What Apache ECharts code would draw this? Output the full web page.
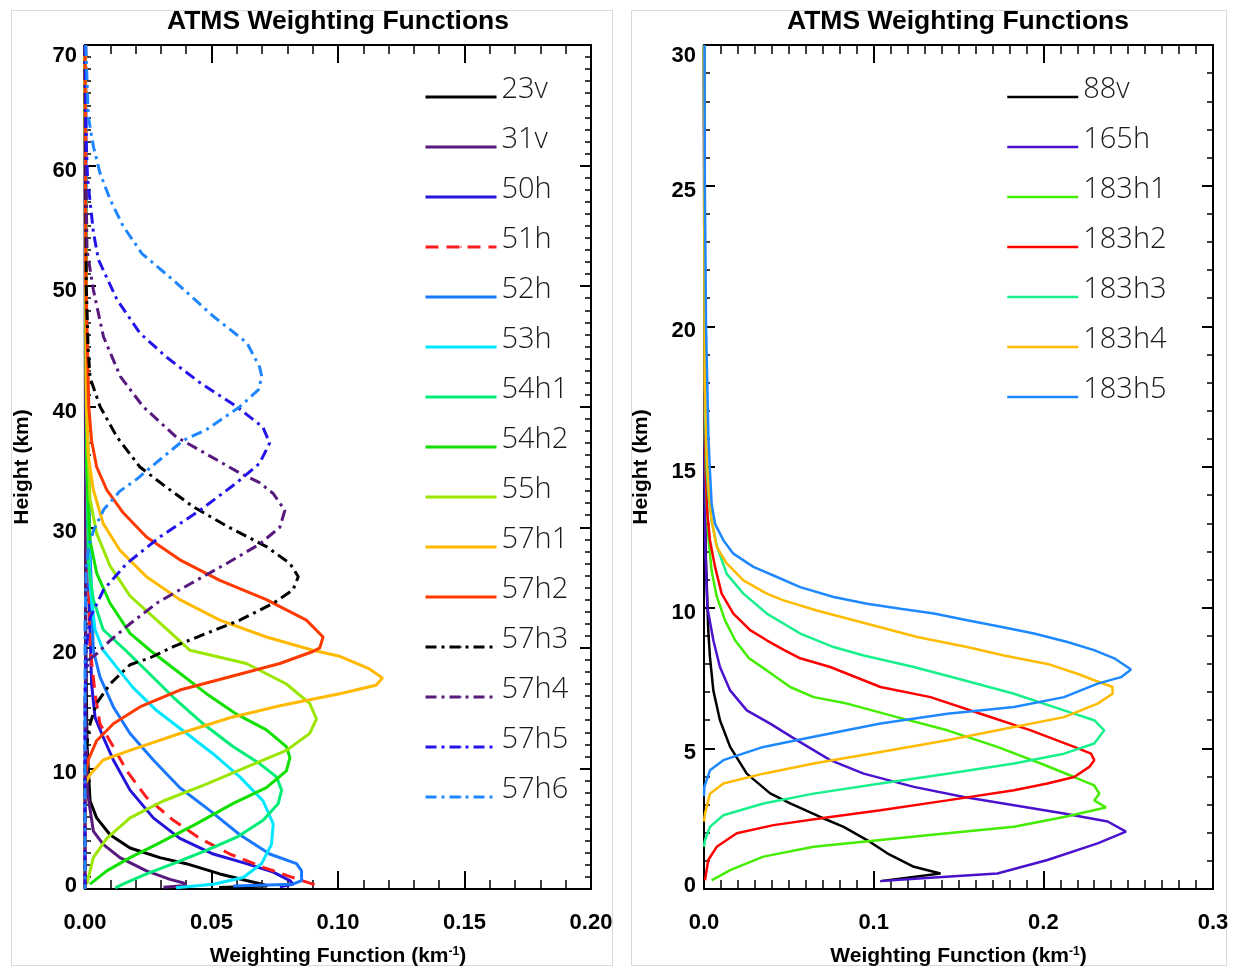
<!DOCTYPE html>
<html><head><meta charset="utf-8">
<script src="https://cdn.jsdelivr.net/npm/echarts@6/dist/echarts.min.js"></script>
<style>html,body{margin:0;padding:0;background:#fff}#c{width:1234px;height:968px}</style>
</head><body><div id="c"></div>
<script>
// ---------- DATA: each profile is [weighting function (km^-1), height (km)] ----------
const leftNames  = ['23v','31v','50h','51h','52h','53h','54h1','54h2','55h','57h1','57h2','57h3','57h4','57h5','57h6'];
const rightNames = ['88v','165h','183h1','183h2','183h3','183h4','183h5'];

const leftXTicks  = [0, 0.2, 0.05];   // min, max, step
const leftYTicks  = [0, 70, 10];
const rightXTicks = [0, 0.3, 0.1];
const rightYTicks = [0, 30, 5];

const w23v = [[0,70],[0.0003,20],[0.0008,12],[0.002,7.3],[0.0046,5.9],[0.0099,4.5],[0.0178,3.4],[0.0296,2.6],[0.040,2.1],[0.0533,1.25],[0.0638,0.7],[0.070,0.4],[0.072,0.25],[0.053,0.12]];
const w31v = [[0,70],[0.0003,15],[0.001,8],[0.0033,4.8],[0.0072,3.7],[0.0138,2.6],[0.0243,1.5],[0.0336,0.8],[0.039,0.5],[0.040,0.3],[0.031,0.14]];
const w50h = [[0,70],[0.0005,40],[0.0015,25],[0.0026,17],[0.004,14.2],[0.0072,12.6],[0.0112,10.7],[0.0178,8.2],[0.027,5.9],[0.0375,4.2],[0.0507,2.9],[0.0638,2.1],[0.0744,1.4],[0.081,0.7],[0.0822,0.4],[0.077,0.18]];
const w51h = [[0.0003,70],[0.0005,50],[0.001,30],[0.002,20],[0.004,16.2],[0.0059,13.7],[0.0112,11.8],[0.0165,9.8],[0.0243,7.6],[0.0349,5.7],[0.0454,4.2],[0.0573,2.9],[0.0704,1.8],[0.0822,0.95],[0.0901,0.4],[0.0915,0.25]];
const w52h = [[0.0002,70],[0.0008,40],[0.002,28],[0.0033,19.8],[0.0059,17.6],[0.0112,15.1],[0.0178,12.9],[0.027,10.7],[0.0375,8.4],[0.0494,6.5],[0.0612,4.5],[0.073,2.9],[0.0836,2.1],[0.0856,1.5],[0.0856,0.7],[0.0822,0.4],[0.0586,0.25]];
const w53h = [[0,70],[0.0008,35],[0.002,25],[0.004,21.5],[0.0072,19.8],[0.0125,18.4],[0.019,16.7],[0.0283,14.8],[0.0402,12.9],[0.0507,11.2],[0.0612,9.3],[0.0704,7.3],[0.0744,5.4],[0.0737,3.7],[0.0698,2.1],[0.0625,0.95],[0.0507,0.4],[0.036,0.1]];
const w54h1 = [[0,70],[0.0008,35],[0.0013,27],[0.0033,24],[0.0072,21.5],[0.016,19.8],[0.0243,18.1],[0.0349,15.9],[0.0467,13.7],[0.0586,11.8],[0.069,10.4],[0.0757,9.3],[0.0777,8.2],[0.0764,7.1],[0.0704,5.7],[0.060,4.3],[0.048,3.2],[0.0349,2.1],[0.0243,1.25],[0.015,0.4],[0.012,0.1]];
const w54h2 = [[0,70],[0.0007,35],[0.002,28.9],[0.0046,26.2],[0.0099,23.7],[0.0178,21.2],[0.0257,19.8],[0.0362,18.1],[0.048,16.2],[0.0599,14.5],[0.0717,13.2],[0.0796,11.8],[0.081,10.9],[0.0796,9.8],[0.0717,8.4],[0.0586,7.1],[0.044,5.4],[0.0283,3.7],[0.0178,2.6],[0.0086,1.5],[0.002,0.4]];
const w55h = [[0,70],[0.0005,40],[0.002,32.3],[0.0046,29.5],[0.0099,26.8],[0.0178,24.3],[0.031,21.8],[0.0415,19.8],[0.0638,18.7],[0.0796,17],[0.0888,15.4],[0.0915,14.1],[0.0888,12.9],[0.0796,11.5],[0.0638,10.1],[0.048,8.7],[0.0309,7.3],[0.0178,5.9],[0.0086,4.2],[0.0033,2.6],[0.0007,0.4]];
const w57h1 = [[0,70],[0.0005,42],[0.0013,35.9],[0.0033,33.1],[0.0072,30.3],[0.0138,28.1],[0.0243,25.9],[0.0375,24],[0.0533,22.3],[0.0717,20.9],[0.0901,19.8],[0.1007,19.3],[0.112,18.3],[0.1176,17.5],[0.115,16.9],[0.1007,16.2],[0.077,15.2],[0.0573,14.2],[0.0375,12.9],[0.0178,11.5],[0.0072,10.7],[0.002,9.5],[0,8.7],[0,0]];
const w57h2 = [[0,70],[0.0004,50],[0.0015,40],[0.0026,37.2],[0.0046,35],[0.0086,33.1],[0.0151,31.2],[0.0243,29.2],[0.0375,27.3],[0.0533,25.6],[0.0717,24],[0.0875,22.3],[0.0941,20.9],[0.0928,20.0],[0.0901,19.7],[0.077,18.7],[0.0573,17.6],[0.0375,16.5],[0.0217,15.1],[0.0112,13.7],[0.0046,12.3],[0.0013,10.7],[0,9.3],[0,0]];
const w57h3 = [[0,70],[0.0005,50],[0.0012,45],[0.002,42.4],[0.006,40],[0.0126,37.5],[0.0217,35],[0.0323,33.3],[0.0428,31.7],[0.056,30.1],[0.0717,28.4],[0.081,27],[0.0843,25.9],[0.0822,24.8],[0.0744,23.7],[0.0612,22.3],[0.048,21.2],[0.0349,20.1],[0.026,19.2],[0.0178,18.6],[0.0099,17],[0.0046,15.4],[0.002,13.7],[0,11],[0,0]];
const w57h4 = [[0,70],[0.0003,60],[0.0008,53],[0.0033,49.7],[0.0073,45.8],[0.014,42.5],[0.023,40],[0.036,37.5],[0.052,35.6],[0.0612,34.5],[0.069,33.7],[0.0744,32.8],[0.079,31.4],[0.077,30],[0.069,28.6],[0.056,27],[0.0415,25.3],[0.0283,23.7],[0.0178,22],[0.0099,20.6],[0.0046,19.5],[0.0013,19],[0,17],[0,0]];
const w57h5 = [[0,70],[0.0005,62],[0.001,59],[0.0033,54.5],[0.0053,52.2],[0.0126,48.9],[0.0217,46.1],[0.0323,44.1],[0.0454,42],[0.06,40],[0.0703,38.3],[0.073,37],[0.069,35.3],[0.06,33.7],[0.0454,31.4],[0.0296,29.2],[0.0165,27],[0.0073,24.8],[0.002,22.5],[0.0005,20],[0,15],[0,0]];
const w57h6 = [[0.0003,70],[0.0013,64.1],[0.0033,61.6],[0.0059,59.4],[0.0099,57.2],[0.015,55],[0.0225,52.7],[0.036,50.3],[0.0507,47.5],[0.064,45.3],[0.069,43.3],[0.0699,42.5],[0.0685,41.4],[0.0612,40],[0.048,38.1],[0.0388,37.2],[0.029,35.5],[0.0205,34],[0.0138,33],[0.0075,31.5],[0.0035,29.8],[0.0015,28.5],[0.0005,26.5],[0,22],[0,0]];

const w88v = [[0,30],[0.0003,15],[0.001,12],[0.0025,9.2],[0.0035,8.25],[0.0055,7.06],[0.0094,6.0],[0.0154,5.05],[0.0252,4.1],[0.039,3.4],[0.0508,3.04],[0.0685,2.56],[0.0823,2.21],[0.0961,1.74],[0.108,1.27],[0.1237,0.79],[0.1394,0.55],[0.104,0.28]];
const w165h = [[0,30],[0.0003,15],[0.0008,12],[0.002,10],[0.0055,8.84],[0.0094,7.89],[0.0154,7.06],[0.0252,6.35],[0.039,5.88],[0.0547,5.29],[0.0744,4.58],[0.0941,4.1],[0.1237,3.63],[0.1532,3.27],[0.1827,2.98],[0.2122,2.68],[0.2379,2.4],[0.2487,2.04],[0.232,1.62],[0.2024,1.03],[0.1729,0.55],[0.1335,0.4],[0.104,0.28]];
const w183h1 = [[0,30],[0.0005,16],[0.0016,13.7],[0.0026,12.5],[0.0045,11.3],[0.0075,10.4],[0.0124,9.55],[0.0183,8.84],[0.0265,8.2],[0.037,7.77],[0.0508,7.18],[0.0646,6.82],[0.0843,6.59],[0.1138,6.11],[0.1434,5.64],[0.1729,5.05],[0.1985,4.46],[0.2182,3.98],[0.23,3.68],[0.233,3.39],[0.23,3.15],[0.2369,2.9],[0.2122,2.56],[0.1827,2.21],[0.1434,1.98],[0.104,1.74],[0.0646,1.5],[0.035,1.15],[0.0154,0.67],[0.0045,0.31]];
const w183h2 = [[0,30],[0.0004,17],[0.001,15],[0.002,13.34],[0.0035,12.4],[0.0065,11.45],[0.0104,10.5],[0.0173,9.79],[0.0272,9.2],[0.037,8.84],[0.047,8.5],[0.0567,8.2],[0.0744,7.89],[0.104,7.18],[0.1335,6.82],[0.163,6.23],[0.1926,5.64],[0.2182,5.05],[0.2281,4.81],[0.23,4.58],[0.2271,4.34],[0.2182,3.98],[0.2024,3.75],[0.1827,3.51],[0.1434,3.15],[0.104,2.8],[0.0744,2.56],[0.041,2.27],[0.0193,1.98],[0.0075,1.5],[0.0025,1.03],[0.0006,0.31]];
const w183h3 = [[0,30],[0.0006,17],[0.0016,14.9],[0.0026,14.0],[0.0045,13.1],[0.0075,12.2],[0.0134,11.2],[0.0232,10.5],[0.037,9.79],[0.0567,9.08],[0.0764,8.6],[0.0941,8.3],[0.1237,7.89],[0.1532,7.42],[0.1827,6.94],[0.2122,6.35],[0.23,6.0],[0.2359,5.64],[0.23,5.17],[0.2122,4.81],[0.1827,4.46],[0.1434,4.1],[0.104,3.75],[0.0646,3.39],[0.035,3.04],[0.0114,2.62],[0.0035,2.21],[0.0006,1.74],[0,1.5]];
const w183h4 = [[0,30],[0.0005,18],[0.0016,15.5],[0.0026,14.3],[0.0045,13.1],[0.0075,12.16],[0.0134,11.57],[0.0232,10.97],[0.037,10.5],[0.0469,10.26],[0.0665,9.9],[0.0961,9.43],[0.1256,8.96],[0.1551,8.6],[0.1768,8.3],[0.2024,8.0],[0.2201,7.65],[0.23,7.42],[0.2408,7.18],[0.2408,6.94],[0.232,6.59],[0.2122,6.11],[0.1827,5.76],[0.1434,5.29],[0.104,4.87],[0.0646,4.46],[0.035,4.1],[0.0114,3.75],[0.0035,3.39],[0.0006,2.68],[0,2.4]];
const w183h5 = [[0.0003,30],[0.0005,25],[0.0012,20],[0.0026,16.06],[0.0035,14.87],[0.0045,13.69],[0.0065,12.98],[0.0114,12.4],[0.0173,11.92],[0.0291,11.45],[0.043,11.09],[0.0567,10.73],[0.0764,10.38],[0.0961,10.14],[0.1158,9.96],[0.1355,9.79],[0.1551,9.55],[0.1748,9.32],[0.1945,9.08],[0.2142,8.78],[0.2299,8.49],[0.2418,8.2],[0.2517,7.8],[0.2458,7.53],[0.232,7.3],[0.2122,6.82],[0.1827,6.47],[0.1434,6.23],[0.104,5.88],[0.0646,5.41],[0.035,5.05],[0.0114,4.58],[0.0035,4.22],[0.0002,3.63],[0,3.3]];

const leftData  = [w23v,w31v,w50h,w51h,w52h,w53h,w54h1,w54h2,w55h,w57h1,w57h2,w57h3,w57h4,w57h5,w57h6];
const rightData = [w88v,w165h,w183h1,w183h2,w183h3,w183h4,w183h5];

// ---------- STYLES ----------
const DASH = [13, 8];
const DASHDOT = [11, 5, 3, 5];
const leftColors = ['#000000','#58197f','#2414dc','#ff1c1c','#1a78ff','#00e6ff','#00ec78','#12e000','#9be600','#ffb900','#ff3a00','#000000','#58197f','#2414ec','#1e86ff'];
const leftTypes  = ['solid','solid','solid',DASH,'solid','solid','solid','solid','solid','solid','solid',DASHDOT,DASHDOT,DASHDOT,DASHDOT];
const rightColors = ['#000000','#4a12cc','#44ec00','#ff0000','#18f08c','#ffbb00','#1e88ff'];

const TXT = "'Liberation Sans', Arial, Helvetica, sans-serif";
const LEG = "'Open Sans', 'DejaVu Sans', sans-serif";
const LBL = {color: '#000', fontSize: 22, fontWeight: 'bold', fontFamily: TXT};

function xAxes(grid, t, dec, minorSplit) {
  const base = {
    gridIndex: grid, type: 'value', min: t[0], max: t[1], interval: t[2],
    splitLine: {show: false},
    axisLine: {onZero: false, lineStyle: {color: '#000', width: 2}},
    axisTick: {inside: true, length: 18, lineStyle: {color: '#000', width: 2}},
    minorTick: {show: true, splitNumber: minorSplit, length: 9, lineStyle: {color: '#000', width: 1.5}}
  };
  return [
    Object.assign({}, base, {
      position: 'bottom',
      axisLabel: Object.assign({margin: 23, formatter: v => v.toFixed(dec)}, LBL),
      name: 'Weighting Function (km{sup|-1})', nameLocation: 'middle', nameGap: 57,
      nameTextStyle: {color: '#000', fontSize: 21, fontWeight: 'bold', fontFamily: TXT,
        rich: {sup: {fontSize: 12, fontWeight: 'bold', fontFamily: TXT, color: '#000', verticalAlign: 'top'}}}
    }),
    Object.assign({}, base, {position: 'top', axisLabel: {show: false}})
  ];
}
function yAxes(grid, t, minorSplit, midPad) {
  const base = {
    gridIndex: grid, type: 'value', min: t[0], max: t[1], interval: t[2],
    splitLine: {show: false},
    axisLine: {onZero: false, lineStyle: {color: '#000', width: 2}},
    axisTick: {inside: true, length: 11, lineStyle: {color: '#000', width: 2}},
    minorTick: {show: true, splitNumber: minorSplit, length: 6, lineStyle: {color: '#000', width: 1.5}}
  };
  return [
    Object.assign({}, base, {
      position: 'left',
      axisLabel: Object.assign({margin: 8, verticalAlignMaxLabel: 'top',
        formatter: v => v === t[1] ? '{hi|' + v + '}' : (v === t[0] ? '{lo|' + v + '}' : '{md|' + v + '}'),
        rich: {
          hi: Object.assign({}, LBL),
          lo: Object.assign({padding: [0, 0, 6, 0]}, LBL),
          md: Object.assign({padding: [midPad, 0, 0, 0]}, LBL)
        }}, LBL),
      name: 'Height (km)', nameLocation: 'middle', nameGap: 52,
      nameTextStyle: {color: '#000', fontSize: 21, fontWeight: 'bold', fontFamily: TXT}
    }),
    Object.assign({}, base, {position: 'right', axisLabel: {show: false}})
  ];
}

const series = [];
leftNames.forEach((n, i) => series.push({
  type: 'line', name: n, xAxisIndex: 0, yAxisIndex: 0, data: leftData[i],
  symbol: 'none', showSymbol: false, silent: true, animation: false,
  lineStyle: {color: leftColors[i], width: 3, type: leftTypes[i]},
  itemStyle: {color: leftColors[i]}
}));
rightNames.forEach((n, i) => series.push({
  type: 'line', name: n, xAxisIndex: 2, yAxisIndex: 2, data: rightData[i],
  symbol: 'none', showSymbol: false, silent: true, animation: false,
  lineStyle: {color: rightColors[i], width: 2.5, type: 'solid'},
  itemStyle: {color: rightColors[i]}
}));

function legend(names, left, top, w) {
  return {
    data: names, orient: 'vertical', left: left, top: top, padding: 0,
    itemWidth: 71, itemHeight: 2, itemGap: 11, selectedMode: false,
    lineStyle: {width: w},
    formatter: n => '{a|' + n + '}\n{b| }',
    textStyle: {color: '#1a1a1a', fontFamily: LEG,
      rich: {
        a: {fontSize: 29, lineHeight: 27, fontFamily: LEG, fontWeight: 300, color: '#1a1a1a'},
        b: {fontSize: 8, lineHeight: 14}
      }}
  };
}

const chart = echarts.init(document.getElementById('c'), null, {renderer: 'canvas'});
const xl = xAxes(0, leftXTicks, 2, 5), xr = xAxes(1, rightXTicks, 1, 10);
const yl = yAxes(0, leftYTicks, 10, 10), yr = yAxes(1, rightYTicks, 5, 10);
chart.setOption({
  animation: false,
  backgroundColor: '#fff',
  title: [
    {text: 'ATMS Weighting Functions', left: 338, top: 8, padding: 0, textAlign: 'center',
     textStyle: {color: '#000', fontSize: 26.5, fontWeight: 'bold', fontFamily: TXT}},
    {text: 'ATMS Weighting Functions', left: 958, top: 8, padding: 0, textAlign: 'center',
     textStyle: {color: '#000', fontSize: 26.5, fontWeight: 'bold', fontFamily: TXT}}
  ],
  graphic: [
    {type: 'rect', shape: {x: 11.5, y: 10.5, width: 601, height: 955}, style: {fill: 'none', stroke: '#d9d9d9', lineWidth: 1}, z: -1},
    {type: 'rect', shape: {x: 631.5, y: 10.5, width: 595, height: 955}, style: {fill: 'none', stroke: '#d9d9d9', lineWidth: 1}, z: -1}
  ],
  grid: [
    {left: 85, right: 643, top: 45, bottom: 79, containLabel: false, outerBoundsMode: 'none'},
    {left: 704, right: 21, top: 45, bottom: 79, containLabel: false, outerBoundsMode: 'none'}
  ],
  xAxis: [xl[0], xl[1], xr[0], xr[1]],
  yAxis: [yl[0], yl[1], yr[0], yr[1]],
  legend: [legend(leftNames, 424, 75.5, 3), legend(rightNames, 1006, 75.5, 2.5)],
  series: series
});
</script></body></html>
